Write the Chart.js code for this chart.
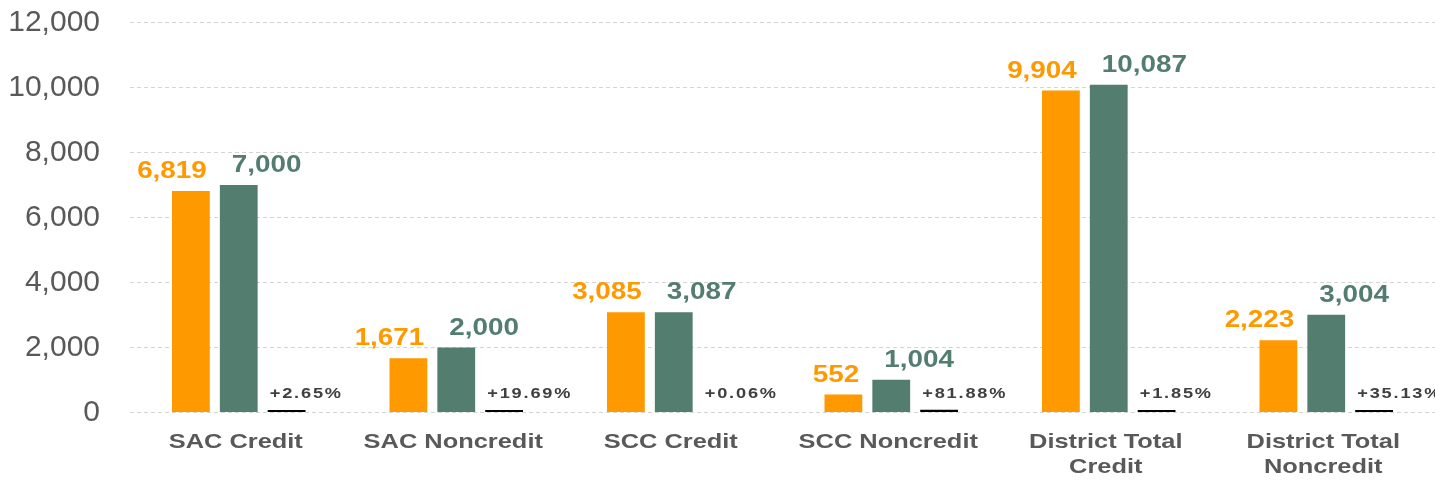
<!DOCTYPE html>
<html>
<head>
<meta charset="utf-8">
<script src="https://cdn.jsdelivr.net/npm/chart.js@4.4.1/dist/chart.umd.min.js"></script>
<style>
  body { margin: 0; background: #fff; }
  #wrap { width: 1435px; height: 481px; }
</style>
</head>
<body>
<div id="wrap"><canvas id="bar-chart"></canvas></div>
<script>
// chart data
var categories = ["SAC Credit", "SAC Noncredit", "SCC Credit", "SCC Noncredit", ["District Total", "Credit"], ["District Total", "Noncredit"]];
var firstYear = [6819, 1671, 3085, 552, 9904, 2223];
var secondYear = [7000, 2000, 3087, 1004, 10087, 3004];
var pctChange = [2.65, 19.69, 0.06, 81.88, 1.85, 35.13];
var yTicks = [0, 2000, 4000, 6000, 8000, 10000, 12000];

var ORANGE = "#FF9900";
var GREEN = "#527D6F";
var FONT = "'Liberation Sans', Arial, sans-serif";

Chart.defaults.font.family = FONT;

// text drawn a bit wider, like the original
function wideText(ctx, text, x, y, align, sx) {
  ctx.save();
  ctx.translate(x, y);
  ctx.scale(sx, 1);
  ctx.textAlign = align;
  ctx.fillText(text, 0, 0);
  ctx.restore();
}

// value labels over the bars + category labels under them
var barLabels = {
  id: 'barLabels',
  afterDatasetsDraw: function(chart) {
    var ctx = chart.ctx;
    ctx.save();
    ctx.textBaseline = "alphabetic";
    ctx.font = "bold 24px " + FONT;
    chart.getDatasetMeta(0).data.forEach(function(bar, i) {
      ctx.fillStyle = ORANGE;
      wideText(ctx, firstYear[i].toLocaleString("en-US"), bar.x + bar.width / 2 - 3, bar.y - 13, "right", 1.16);
    });
    chart.getDatasetMeta(1).data.forEach(function(bar, i) {
      ctx.fillStyle = GREEN;
      wideText(ctx, secondYear[i].toLocaleString("en-US"), bar.x - bar.width / 2 + 12, bar.y - 13, "left", 1.16);
    });
    ctx.font = "bold 14px " + FONT;
    ctx.letterSpacing = "1.4px";
    chart.getDatasetMeta(2).data.forEach(function(bar, i) {
      ctx.fillStyle = "#404040";
      wideText(ctx, "+" + pctChange[i].toFixed(2) + "%", bar.x - bar.width / 2 + 2, 398, "left", 1.3);
    });
    ctx.letterSpacing = "0px";

    // categories
    var x = chart.scales.x;
    ctx.font = "bold 21px " + FONT;
    ctx.fillStyle = "#595959";
    categories.forEach(function(c, i) {
      var lines = [].concat(c);
      lines.forEach(function(line, j) {
        wideText(ctx, line, x.getPixelForValue(i) - 3, 448 + j * 25, "center", 1.21);
      });
    });
    ctx.restore();
  }
};

new Chart(document.getElementById("bar-chart"), {
  type: 'bar',
  data: {
    labels: categories,
    datasets: [
      { label: "Year 1", data: firstYear, backgroundColor: ORANGE },
      { label: "Year 2", data: secondYear, backgroundColor: GREEN },
      {
        label: "Change",
        data: pctChange,
        backgroundColor: function(c) { return pctChange[c.dataIndex] < 0.5 ? "rgba(0,0,0,0)" : "#000000"; },
        minBarLength: 2.5
      }
    ]
  },
  options: {
    responsive: true,
    maintainAspectRatio: false,
    animation: false,
    categoryPercentage: 0.66,
    barPercentage: 0.79,
    layout: { padding: { top: 22.5, right: -5, bottom: 0, left: 0 } },
    plugins: {
      legend: { display: false },
      tooltip: { enabled: false }
    },
    scales: {
      x: {
        grid: { display: false },
        border: { display: false },
        ticks: { display: false },
        afterFit: function(scale) { scale.height = 68.5; }
      },
      y: {
        min: 0,
        max: 12000,
        afterBuildTicks: function(scale) {
          scale.ticks = yTicks.map(function(v) { return { value: v }; });
        },
        grid: { color: "#D4D4D4", lineWidth: 1, drawTicks: false },
        border: { display: false, dash: [4, 3] },
        ticks: {
          color: "#595959",
          font: { size: 30 },
          padding: 30,
          callback: function(v) { return v.toLocaleString("en-US"); }
        },
        afterFit: function(scale) {
          scale.width = 130;
          scale.paddingTop = 0;
          scale.paddingBottom = 0;
        }
      }
    }
  },
  plugins: [barLabels]
});
</script>
</body>
</html>
